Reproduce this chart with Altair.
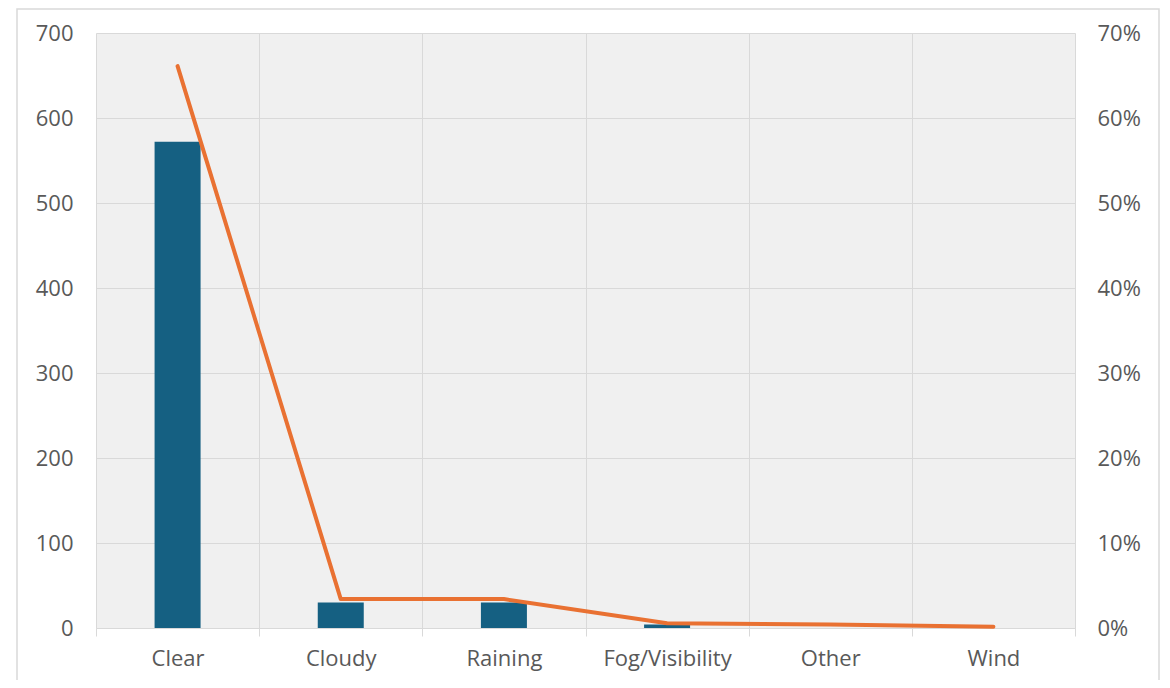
import altair as alt
import pandas as pd

categories = ["Clear", "Cloudy", "Raining", "Fog/Visibility", "Other", "Wind"]
counts = [572, 30, 30, 4, 0, 0]
shares = [0.661, 0.034, 0.034, 0.0055, 0.004, 0.0015]

df = pd.DataFrame({"cat": categories, "count": counts, "share": shares})

FONT = "Open Sans"
FS = 22
GRID = "#d9d9d9"
LABEL = "#595959"
BLUE = "#156082"
ORANGE = "#E97132"

x_enc = alt.X(
    "cat:N",
    sort=categories,
    title=None,
    scale=alt.Scale(paddingInner=0, paddingOuter=0),
    axis=alt.Axis(
        labelAngle=0,
        tickBand="extent",
        grid=True,
        gridColor=GRID,
        gridWidth=1,
        tickColor=GRID,
        tickSize=8,
        tickWidth=1,
        domainColor=GRID,
        domainWidth=1,
        labelFont=FONT,
        labelFontSize=FS,
        labelColor=LABEL,
        labelPadding=12,
    ),
)

bars = alt.Chart(df).mark_bar(size=46, color=BLUE).encode(
    x=x_enc,
    y=alt.Y(
        "count:Q",
        title=None,
        scale=alt.Scale(domain=[0, 700], nice=False),
        axis=alt.Axis(
            values=[0, 100, 200, 300, 400, 500, 600, 700],
            grid=True,
            gridColor=GRID,
            gridWidth=1,
            domain=False,
            ticks=False,
            labelFont=FONT,
            labelFontSize=FS,
            labelColor=LABEL,
            labelPadding=23,
        ),
    ),
)

line = alt.Chart(df).mark_line(color=ORANGE, strokeWidth=4, strokeCap="round", strokeJoin="round").encode(
    x=alt.X("cat:N", sort=categories),
    y=alt.Y(
        "share:Q",
        title=None,
        scale=alt.Scale(domain=[0, 0.7], nice=False),
        axis=alt.Axis(
            orient="right",
            values=[0, 0.1, 0.2, 0.3, 0.4, 0.5, 0.6, 0.7],
            format=".0%",
            grid=False,
            domain=False,
            ticks=False,
            labelFont=FONT,
            labelFontSize=FS,
            labelColor=LABEL,
            labelPadding=22,
        ),
    ),
)

frame = alt.Chart(pd.DataFrame({"a": [0]})).mark_rect(
    fillOpacity=0, stroke=GRID, strokeWidth=1.5
).encode(
    x=alt.value(-79), x2=alt.value(1063), y=alt.value(-24), y2=alt.value(700)
)

chart = (
    alt.layer(frame, bars, line)
    .resolve_scale(y="independent")
    .properties(
        width=979,
        height=595,
        autosize=alt.AutoSizeParams(type="none"),
        padding={"left": 88, "top": 25, "right": 87, "bottom": 52},
    )
    .configure(background="white", view=alt.ViewConfig(fill="#f0f0f0", strokeOpacity=0))
)

chart.save("out.html", embed_options={"renderer": "svg", "actions": False})
